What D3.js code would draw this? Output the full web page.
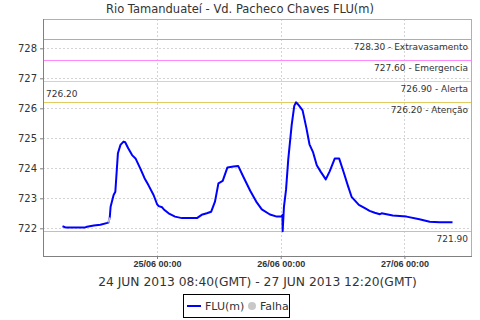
<!DOCTYPE html>
<meta charset="utf-8">
<html>
<head>
    <script src="https://d3js.org/d3.v7.min.js"></script>
    <style>
        body { margin: 0; background: #fff; }
        svg { display: block; }
        text { font-family: "DejaVu Sans", sans-serif; fill: #333; }
    </style>
</head>
<body>
    <div id="chart"></div>
    <script>
        // level readings (local time) and values
        var times = [
            "24/06 05:40", "24/06 06:15", "24/06 10:05", "24/06 10:25", "24/06 11:45", "24/06 13:00",
            "24/06 14:35", "24/06 14:50", "24/06 15:00", "24/06 15:35", "24/06 15:55", "24/06 16:25",
            "24/06 16:55", "24/06 17:30", "24/06 17:50", "24/06 18:25", "24/06 19:10", "24/06 19:50",
            "24/06 20:45", "24/06 21:35", "24/06 22:20", "24/06 23:20", "25/06 00:00", "25/06 00:20",
            "25/06 01:00", "25/06 01:20", "25/06 02:15", "25/06 03:30", "25/06 04:50", "25/06 07:45",
            "25/06 08:40", "25/06 09:40", "25/06 10:30", "25/06 11:15", "25/06 11:55", "25/06 12:45",
            "25/06 13:40", "25/06 14:50", "25/06 15:45", "25/06 16:45", "25/06 18:05", "25/06 19:15",
            "25/06 20:20", "25/06 21:55", "25/06 23:15", "26/06 00:10", "26/06 00:20", "26/06 00:23",
            "26/06 00:38", "26/06 01:02", "26/06 01:28", "26/06 02:08", "26/06 02:38", "26/06 02:58",
            "26/06 03:25", "26/06 04:15", "26/06 05:00", "26/06 05:35", "26/06 06:15", "26/06 07:00",
            "26/06 07:45", "26/06 08:45", "26/06 09:30", "26/06 10:30", "26/06 11:20", "26/06 12:15",
            "26/06 13:00", "26/06 13:45", "26/06 15:10", "26/06 16:20", "26/06 17:15", "26/06 18:15",
            "26/06 19:15", "26/06 19:35", "26/06 21:45", "27/06 00:25", "27/06 02:55", "27/06 04:55",
            "27/06 06:50", "27/06 09:20"
        ];
        var levels = [
            722.07, 722.03, 722.03, 722.05, 722.09, 722.12,
            722.19, 722.36, 722.72, 723.11, 723.22, 724.50,
            724.78, 724.89, 724.87, 724.67, 724.44, 724.33,
            724.00, 723.67, 723.44, 723.11, 722.81, 722.74,
            722.70, 722.63, 722.50, 722.39, 722.34, 722.34,
            722.45, 722.50, 722.55, 722.89, 723.50, 723.58,
            724.03, 724.06, 724.08, 723.72, 723.25, 722.89,
            722.63, 722.46, 722.39, 722.40, 722.44, 721.90,
            722.72, 723.28, 724.30, 725.45, 726.08, 726.20,
            726.12, 725.93, 725.33, 724.80, 724.55, 724.10,
            723.89, 723.63, 723.90, 724.33, 724.33, 723.85,
            723.44, 723.05, 722.78, 722.67, 722.58, 722.52,
            722.47, 722.50, 722.43, 722.39, 722.30, 722.22,
            722.20, 722.20
        ];
        // failure interval (drawn grey)
        var falha = [["24/06 14:35", "24/06 14:50"]];

        // alert levels
        var refValues = [728.30, 727.60, 726.90, 726.20];
        var refNames = ["Extravasamento", "Emergencia", "Alerta", "Atenção"];
        var refColors = ["#f09090", "#ff88ff", "#ffc890", "#e0cc60"];
        var maxValue = 726.20, minValue = 721.90;

        var yTicks = [722, 723, 724, 725, 726, 727, 728];
        var title = "Rio Tamanduateí - Vd. Pacheco Chaves FLU(m)";
        var subtitle = "24 JUN 2013 08:40(GMT) - 27 JUN 2013 12:20(GMT)";

        var parse = d3.timeParse("%d/%m/%Y %H:%M");
        function toDate(t) { return parse(t.replace(" ", "/2013 ")); }
        var data = times.map(function (t, i) {
            return { date: toDate(t), v: levels[i] };
        });

        var W = 480, H = 320;
        var margin = { top: 19, right: 8, bottom: 64, left: 43 };
        var width = W - margin.left - margin.right,
            height = H - margin.top - margin.bottom;

        var svg = d3.select("#chart").append("svg")
            .attr("width", W).attr("height", H);

        svg.append("text")
            .attr("x", 240).attr("y", 12.5)
            .attr("text-anchor", "middle")
            .style("font-size", "11.5px")
            .text(title);

        var g = svg.append("g")
            .attr("transform", "translate(" + margin.left + "," + margin.top + ")");

        var ext = d3.extent(data, function (d) { return d.date; });
        var pad = (ext[1] - ext[0]) * 0.05;
        var x = d3.scaleTime()
            .domain([new Date(+ext[0] - pad), new Date(+ext[1] + pad)])
            .range([0, width]);

        var y = d3.scaleLinear()
            .domain([721.077, 728.977])
            .range([height, 0]);

        var xTicks = d3.timeDay.range(d3.timeDay.ceil(x.domain()[0]), x.domain()[1]);

        // grid
        g.selectAll(".hgrid").data(yTicks).enter().append("line")
            .attr("x1", 0).attr("x2", width)
            .attr("y1", function (d) { return Math.round(y(d)) + 0.5; })
            .attr("y2", function (d) { return Math.round(y(d)) + 0.5; })
            .style("stroke", "#d4d4d4").style("stroke-dasharray", "2,2");
        g.selectAll(".vgrid").data(xTicks).enter().append("line")
            .attr("y1", 0).attr("y2", height)
            .attr("x1", function (d) { return Math.round(x(d)) + 0.5; })
            .attr("x2", function (d) { return Math.round(x(d)) + 0.5; })
            .style("stroke", "#d4d4d4").style("stroke-dasharray", "2,2");

        // alert lines
        g.selectAll(".ref").data(refValues).enter().append("line")
            .attr("x1", 0).attr("x2", width)
            .attr("y1", function (d) { return Math.round(y(d)) + 0.5; })
            .attr("y2", function (d) { return Math.round(y(d)) + 0.5; })
            .style("stroke", function (d, i) { return refColors[i]; });
        g.selectAll(".reflabel").data(refValues).enter().append("text")
            .attr("x", width - 4)
            .attr("y", function (d) { return y(d) + 11; })
            .attr("text-anchor", "end")
            .style("font-size", "9px")
            .text(function (d, i) { return d3.format(".2f")(d) + " - " + refNames[i]; });

        // min line + labels
        g.append("line")
            .attr("x1", 0).attr("x2", width)
            .attr("y1", Math.round(y(minValue)) + 0.5).attr("y2", Math.round(y(minValue)) + 0.5)
            .style("stroke", "#c0c0c0");
        g.append("text")
            .attr("x", width - 4).attr("y", y(minValue) + 10.5)
            .attr("text-anchor", "end").style("font-size", "9px")
            .text(d3.format(".2f")(minValue));
        g.append("text")
            .attr("x", 3).attr("y", y(maxValue) - 5.5)
            .style("font-size", "9px")
            .text(d3.format(".2f")(maxValue));

        // series
        var line = d3.line()
            .x(function (d) { return x(d.date); })
            .y(function (d) { return y(d.v); });
        g.append("path").datum(data)
            .attr("d", line)
            .style("fill", "none").style("stroke", "#0000ff")
            .style("stroke-width", 2).style("stroke-linejoin", "round");
        falha.forEach(function (f) {
            var a = toDate(f[0]), b = toDate(f[1]);
            var seg = data.filter(function (d) { return d.date >= a && d.date <= b; });
            g.append("path").datum(seg)
                .attr("d", line)
                .style("fill", "none").style("stroke", "#c0c0c0").style("stroke-width", 2);
        });

        // border
        g.append("rect")
            .attr("x", 0.5).attr("y", 0.5)
            .attr("width", width - 1).attr("height", height)
            .style("fill", "none").style("stroke", "#b0b0b0");

        // axes
        var yAxis = g.append("g")
            .call(d3.axisLeft(y).tickValues(yTicks).tickSize(3).tickPadding(3).tickFormat(d3.format("d")));
        yAxis.select(".domain").attr("d", "M0.5,0V" + height).style("stroke", "#808080");
        yAxis.selectAll(".tick line").style("stroke", "#808080");
        yAxis.selectAll("text").style("font-family", "DejaVu Sans").style("font-size", "10px").style("fill", "#333");

        var xAxis = g.append("g")
            .attr("transform", "translate(0," + height + ")")
            .call(d3.axisBottom(x).tickValues(xTicks).tickSize(3).tickPadding(2)
                .tickFormat(d3.timeFormat("%d/%m %H:%M")));
        xAxis.select(".domain").attr("d", "M0," + 0.5 + "H" + width).style("stroke", "#808080");
        xAxis.selectAll(".tick line").style("stroke", "#808080");
        xAxis.selectAll("text").style("font-family", "Liberation Sans").style("font-size", "9px")
            .style("font-weight", "bold").style("fill", "#333");

        // axis label, centred on the plot area
        g.append("text")
            .attr("x", width / 2).attr("y", height + 29.5)
            .attr("text-anchor", "middle")
            .style("font-size", "12.3px")
            .text(subtitle);

        // legend
        var lg = svg.append("g").attr("transform", "translate(183,294)");
        lg.append("rect").attr("x", 0.5).attr("y", 0.5).attr("width", 106).attr("height", 23)
            .style("fill", "#fff").style("stroke", "#000");
        lg.append("line").attr("x1", 4).attr("x2", 18).attr("y1", 12).attr("y2", 12)
            .style("stroke", "#0000ff").style("stroke-width", 2);
        lg.append("text").attr("x", 22).attr("y", 16).style("font-size", "11px").text("FLU(m)");
        lg.append("circle").attr("cx", 69).attr("cy", 12).attr("r", 4).style("fill", "#c8c8c8");
        lg.append("text").attr("x", 77).attr("y", 16).style("font-size", "11px").text("Falha");
    </script>
</body>
</html>
